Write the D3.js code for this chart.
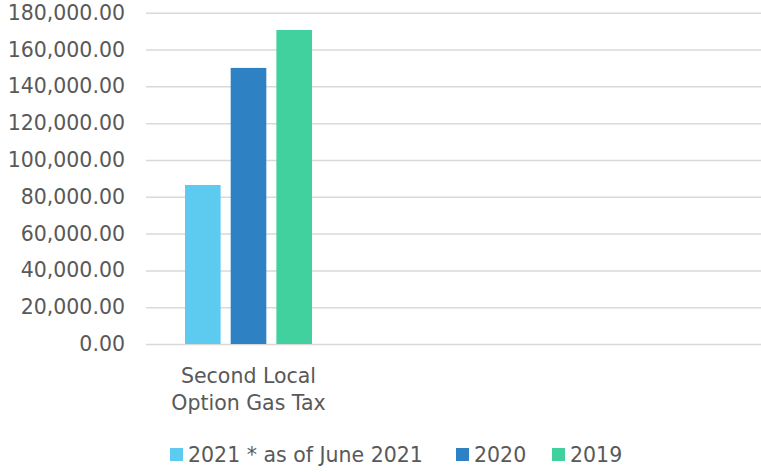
<!DOCTYPE html>
<html><head><meta charset="utf-8">
<script src="https://cdn.jsdelivr.net/npm/d3@7"></script>
<style>body{margin:0;background:#fff;}svg{display:block;font-family:"DejaVu Sans",sans-serif;}</style>
</head><body><svg id="c" width="761" height="472"></svg>
<script>
const categories = ["Second Local Option Gas Tax", "", " "];
const seriesNames = ["2021 * as of June 2021", "2020", "2019"];
const colors = ["#5DCBF0", "#2E82C3", "#41D19F"];
const values2021 = [86400, null, null];
const values2020 = [150000, null, null];
const values2019 = [170600, null, null];
const yTicks = [0, 20000, 40000, 60000, 80000, 100000, 120000, 140000, 160000, 180000];

const series = [values2021, values2020, values2019];
const svg = d3.select("#c");
const L = 146, R = 761, T = 12.7, B = 344;
const FS = 20.5;
const x = d3.scaleBand().domain(categories).range([L, R]);
const y = d3.scaleLinear().domain([0, 180000]).range([B, T]);
const xs = d3.scaleBand().domain(d3.range(series.length)).range([0, 127]).paddingInner(0.22);
const fmt = d3.format(",.2f");
const txt = "#595959";

const yAxis = d3.axisLeft(y).tickValues(yTicks).tickFormat(fmt).tickSize(-(R - L)).tickPadding(21);
const gy = svg.append("g").attr("transform", `translate(${L},0)`).call(yAxis);
gy.select(".domain").remove();
gy.selectAll(".tick line").attr("stroke", "#d9d9d9").attr("stroke-width", 1.5);
gy.selectAll(".tick text").attr("fill", txt).attr("font-size", FS).attr("font-family", "DejaVu Sans");

const g = svg.append("g");
series.forEach((vals, si) => {
  g.selectAll(null).data(categories.map((c, i) => ({c, v: vals[i]})).filter(d => d.v != null))
    .enter().append("rect")
    .attr("x", d => x(d.c) + x.bandwidth() / 2 - 63.5 + xs(si))
    .attr("width", xs.bandwidth())
    .attr("y", d => y(d.v))
    .attr("height", d => y(0) - y(d.v))
    .attr("fill", colors[si]);
});

// category label (wrapped)
const lab = svg.append("text").attr("fill", txt).attr("font-size", FS).attr("text-anchor", "middle");
const xc = x(categories[0]) + x.bandwidth() / 2;
lab.append("tspan").attr("x", xc).attr("y", 383).text("Second Local");
lab.append("tspan").attr("x", xc).attr("y", 410).text("Option Gas Tax");

// legend
const legX = [170, 456, 552];
const lg = svg.append("g");
seriesNames.forEach((n, i) => {
  lg.append("rect").attr("x", legX[i]).attr("y", 448).attr("width", 13).attr("height", 13).attr("fill", colors[i]);
  lg.append("text").attr("x", legX[i] + 18).attr("y", 462).attr("fill", txt).attr("font-size", FS).text(n);
});
</script></body></html>
